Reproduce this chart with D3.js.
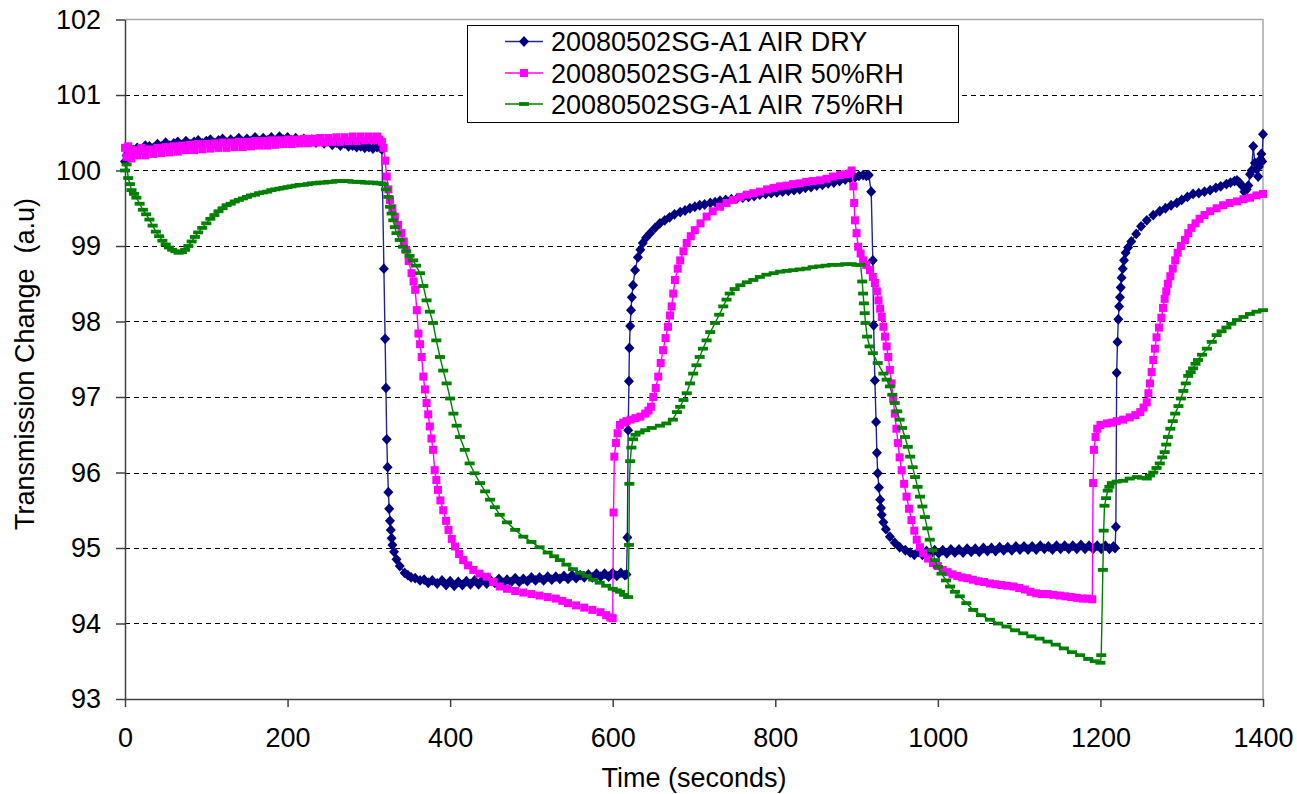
<!DOCTYPE html>
<html>
<head>
<meta charset="utf-8">
<script src="https://cdn.jsdelivr.net/npm/d3@7"></script>
<style>
  html, body { margin: 0; padding: 0; background: #fff; }
  svg { display: block; font-family: "Liberation Sans", Arial, sans-serif; }
</style>
</head>
<body>
<svg id="chart" width="1297" height="794"></svg>
<script>
// Transmission change vs. time for sample 20080502SG-A1 under three air humidities.
// Each record is [time (s), transmission (a.u)].

const seriesNames = [
  "20080502SG-A1 AIR DRY",
  "20080502SG-A1 AIR 50%RH",
  "20080502SG-A1 AIR 75%RH"
];

const xTicks = [0, 200, 400, 600, 800, 1000, 1200, 1400];
const yTicks = [93, 94, 95, 96, 97, 98, 99, 100, 101, 102];
const gridValues = [94, 95, 96, 97, 98, 99, 100, 101];

const dryData = [
  [0,100.12],[2,100.2],[4,100.24],[6,100.22],[8,100.26],[10,100.27],[15,100.3],[20,100.27],[25,100.33],[30,100.32],
  [35,100.3],[40,100.35],[45,100.32],[50,100.37],[55,100.33],[60,100.36],[65,100.38],[70,100.34],[75,100.39],[80,100.35],
  [85,100.38],[90,100.4],[95,100.36],[100,100.39],[105,100.41],[110,100.36],[115,100.4],[120,100.42],[125,100.37],[130,100.41],
  [135,100.38],[140,100.43],[145,100.38],[150,100.42],[155,100.39],[160,100.44],[165,100.39],[170,100.43],[175,100.4],[180,100.44],
  [185,100.39],[190,100.45],[195,100.41],[200,100.44],[205,100.4],[210,100.43],[215,100.39],[220,100.42],[225,100.38],[230,100.41],
  [235,100.37],[240,100.4],[245,100.36],[250,100.39],[255,100.34],[260,100.37],[265,100.33],[270,100.36],[275,100.32],[280,100.33],
  [285,100.31],[290,100.32],[295,100.3],[300,100.31],[305,100.29],[310,100.31],[314,100.3],[316,100.28],
  [318.5,98.7],[320,97.77],[321,97.12],[322,96.44],[323,96.07],[324,95.74],[325,95.52],[326,95.36],[327,95.24],[328,95.13],
  [329,95.04],[331,94.95],[334,94.85],[338,94.76],[344,94.67],[348,94.64],[352,94.61],[357,94.6],[363,94.57],[368,94.58],
  [373,94.54],[378,94.57],[384,94.53],[390,94.57],[395,94.51],[400,94.56],[405,94.5],[410,94.55],[415,94.51],[420,94.56],
  [425,94.52],[430,94.57],[435,94.52],[440,94.58],[445,94.53],[450,94.57],[455,94.54],[460,94.59],[465,94.54],[470,94.58],
  [475,94.55],[480,94.6],[485,94.55],[490,94.59],[495,94.56],[500,94.61],[505,94.57],[510,94.61],[515,94.57],[520,94.62],
  [525,94.58],[530,94.62],[535,94.59],[540,94.63],[545,94.59],[550,94.64],[555,94.6],[560,94.64],[565,94.61],[570,94.65],
  [575,94.61],[580,94.66],[585,94.62],[590,94.66],[595,94.62],[600,94.67],[605,94.63],[610,94.67],[615,94.64],[617,94.65],
  [618,95.14],[619,96.56],[620,97.21],[620.5,97.65],[621.5,97.94],[622.5,98.15],[623.5,98.32],[625,98.48],[627.5,98.68],[631,98.85],
  [634,98.95],[637,99.04],[641,99.11],[646,99.17],[652,99.24],[658,99.3],[664,99.34],[670,99.38],[676,99.42],[683,99.45],
  [689,99.47],[695,99.5],[701,99.52],[707,99.54],[713,99.55],[720,99.57],[726,99.58],[732,99.6],[739,99.61],[746,99.62],
  [753,99.63],[760,99.64],[767,99.65],[774,99.66],[781,99.68],[788,99.69],[795,99.7],[802,99.71],[809,99.72],[816,99.73],
  [823,99.74],[830,99.75],[837,99.77],[844,99.78],[851,99.8],[858,99.81],[865,99.83],[872,99.84],[879,99.86],[886,99.88],
  [892,99.9],[898,99.91],[903,99.93],[908,99.94],[912,99.93],[915,99.94],[918,99.72],
  [920,98.81],[921,97.95],[922.5,97.22],[924,96.67],[925,96.26],[926,95.99],[927.5,95.8],[929,95.64],[930,95.53],[931,95.44],
  [933,95.34],[936,95.25],[941,95.15],[947,95.07],[953,95.01],[960,94.97],[966,94.94],[971,94.91],[976,94.95],[981,94.91],
  [986,94.96],[991,94.92],[996,94.97],[1001,94.93],[1006,94.97],[1011,94.93],[1016,94.98],[1021,94.94],[1026,94.98],[1031,94.94],
  [1036,94.99],[1041,94.95],[1046,94.99],[1051,94.95],[1056,95.0],[1061,94.96],[1066,95.0],[1071,94.96],[1076,95.01],[1081,94.97],
  [1086,95.01],[1091,94.97],[1096,95.02],[1101,94.98],[1106,95.02],[1111,94.98],[1116,95.02],[1121,94.98],[1126,95.03],[1131,94.99],
  [1136,95.02],[1141,94.98],[1146,95.03],[1151,94.99],[1156,95.03],[1161,94.99],[1166,95.03],[1171,94.99],[1176,95.04],[1181,94.99],
  [1186,95.03],[1191,94.99],[1196,95.03],[1201,94.99],[1206,95.03],[1211,94.99],[1216,95.02],[1218,95.0],
  [1219,95.28],[1220,97.32],[1221,97.73],[1222,98.03],[1223,98.2],[1224,98.32],[1225,98.45],[1226,98.58],[1227.5,98.7],[1229,98.81],
  [1231,98.91],[1234,98.98],[1238,99.06],[1244,99.16],[1250,99.26],[1257,99.34],[1265,99.41],[1273,99.46],[1280,99.5],[1287,99.54],
  [1294,99.57],[1300,99.61],[1307,99.65],[1314,99.69],[1321,99.7],[1328,99.72],[1335,99.74],[1342,99.77],[1348,99.79],[1355,99.82],
  [1360,99.84],[1365,99.86],[1368,99.87],[1371,99.84],[1374,99.8],[1377,99.72],[1380,99.75],[1382,99.8],[1384,99.95],[1386,100.0],
  [1388,100.32],[1390,100.1],[1392,100.02],[1394,99.92],[1395,100.05],[1397,100.15],[1398,100.22],[1399,100.12],[1400,100.48]
];

const rh50Data = [
  [0,100.3],[2,100.18],[4,100.32],[6,100.22],[8,100.16],[10,100.27],[15,100.2],[20,100.3],[25,100.2],[30,100.28],
  [35,100.22],[40,100.3],[45,100.23],[50,100.31],[55,100.24],[60,100.32],[65,100.25],[70,100.33],[75,100.27],[80,100.34],
  [85,100.27],[90,100.35],[95,100.28],[100,100.35],[105,100.29],[110,100.36],[115,100.3],[120,100.37],[125,100.3],[130,100.37],
  [135,100.31],[140,100.38],[145,100.31],[150,100.38],[155,100.32],[160,100.39],[165,100.33],[170,100.39],[175,100.33],[180,100.4],
  [185,100.34],[190,100.4],[195,100.35],[200,100.41],[205,100.35],[210,100.41],[215,100.36],[220,100.42],[225,100.36],[230,100.42],
  [235,100.37],[240,100.43],[245,100.37],[250,100.43],[255,100.38],[260,100.44],[265,100.38],[270,100.44],[275,100.39],[280,100.45],
  [285,100.39],[290,100.45],[295,100.4],[300,100.45],[305,100.4],[310,100.45],[313,100.41],[316,100.38],[318,100.3],
  [320,100.13],[322,99.92],[324,99.75],[326,99.61],[329,99.5],[332,99.39],[336,99.28],[340,99.17],[343,99.06],[346,98.95],
  [349,98.8],[352.5,98.64],[355,98.53],[357,98.42],[359,98.15],[361,97.84],[363,97.7],[365,97.53],[367,97.27],[369,97.1],
  [371,96.92],[373,96.77],[375,96.61],[377,96.45],[379,96.3],[381,96.03],[383,95.9],[385,95.77],[388,95.63],[391.5,95.5],
  [395,95.36],[398,95.24],[402,95.12],[406,95.02],[411,94.92],[416,94.84],[422,94.77],[428.5,94.71],[436,94.66],[445,94.62],
  [453,94.55],[461,94.49],[470,94.46],[480,94.43],[490,94.41],[500,94.39],[510,94.37],[520,94.35],[530,94.33],[538,94.3],
  [545,94.27],[555,94.24],[565,94.21],[575,94.18],[585,94.15],[592,94.11],[597,94.08],[600,94.07],
  [601,95.47],[602,96.21],[604,96.39],[606,96.52],[609,96.63],[613,96.66],[617,96.68],[622,96.7],[628,96.72],[634,96.74],
  [640,96.78],[644,96.82],[647,96.87],[650,97.0],[653,97.12],[656,97.27],[659,97.45],[662,97.62],[665,97.78],[668,97.93],
  [670.5,98.08],[672.5,98.2],[674.5,98.37],[676.5,98.55],[680,98.7],[683,98.81],[687,98.93],[691,99.04],[696,99.13],[701,99.21],
  [708,99.3],[715.5,99.39],[723,99.46],[732,99.52],[740,99.57],[748,99.61],[757,99.65],[765,99.68],[773,99.7],[781,99.72],
  [790,99.75],[798,99.77],[806,99.79],[814,99.8],[822,99.82],[830,99.83],[838,99.85],[846,99.86],[855,99.87],[863,99.89],
  [871,99.92],[880,99.94],[886,99.95],[892,99.96],[894,100.0],
  [896,99.79],[897,99.57],[898,99.34],[900,99.17],[902,98.99],[905,98.9],[908,98.81],[912,98.75],[916.5,98.68],[920,98.59],
  [922.5,98.51],[925,98.4],[927,98.28],[929,98.17],[931,98.06],[933,97.93],[935,97.8],[937,97.67],[939,97.53],[941,97.36],
  [943,97.18],[945,96.98],[947,96.78],[949,96.58],[951,96.39],[953,96.2],[955.5,96.03],[958.5,95.85],[961.5,95.68],[964.5,95.52],
  [967.5,95.37],[971,95.23],[974,95.11],[978,95.01],[982,94.93],[988,94.86],[994,94.8],[1000,94.76],[1006,94.71],[1012,94.68],
  [1018,94.65],[1024,94.63],[1030,94.61],[1036,94.6],[1043,94.58],[1050,94.56],[1057,94.55],[1064,94.53],[1071,94.52],[1078,94.51],
  [1085,94.5],[1093,94.49],[1100,94.47],[1107,94.45],[1114,94.42],[1121,94.4],[1128,94.39],[1135,94.39],[1142,94.38],[1150,94.37],
  [1157,94.36],[1164,94.35],[1171,94.34],[1178,94.33],[1184,94.33],[1190,94.32],
  [1191,95.86],[1192,96.3],[1194,96.47],[1196,96.58],[1200,96.63],[1208,96.65],[1214,96.66],[1220,96.68],[1228,96.7],[1236,96.73],
  [1243,96.76],[1249,96.8],[1253,96.86],[1257,96.93],[1259,97.05],[1261,97.18],[1263,97.33],[1265,97.49],[1267,97.64],[1269,97.79],
  [1272,97.92],[1275,98.05],[1277,98.18],[1279,98.3],[1281,98.4],[1283,98.5],[1286,98.6],[1289,98.7],[1292,98.81],[1295,98.91],
  [1299,99.0],[1304,99.08],[1308,99.17],[1312,99.24],[1317,99.3],[1322,99.36],[1328,99.41],[1335,99.46],[1343,99.5],[1351,99.54],
  [1359,99.57],[1368,99.59],[1376,99.62],[1384,99.64],[1392,99.67],[1400,99.69]
];

const rh75Data = [
  [0,100.0],[2,100.08],[4,99.9],[6,99.82],[8,99.74],[11,99.69],[14,99.64],[18,99.56],[22,99.48],[26,99.42],
  [30,99.35],[34,99.27],[38,99.19],[42,99.13],[46,99.07],[50,99.02],[54,98.98],[58,98.95],[62,98.93],[66,98.91],
  [70,98.92],[74,98.95],[78,99.0],[82,99.06],[86,99.12],[90,99.18],[95,99.24],[100,99.3],[105,99.36],[110,99.41],
  [115,99.46],[120,99.5],[125,99.54],[130,99.56],[135,99.59],[140,99.61],[145,99.63],[150,99.65],[155,99.67],[160,99.68],
  [165,99.7],[170,99.71],[175,99.72],[180,99.74],[185,99.75],[190,99.76],[195,99.77],[200,99.78],[205,99.79],[210,99.8],
  [215,99.81],[220,99.81],[225,99.82],[230,99.83],[235,99.83],[240,99.84],[245,99.84],[250,99.85],[255,99.85],[260,99.86],
  [265,99.86],[270,99.86],[275,99.86],[280,99.85],[285,99.85],[290,99.85],[295,99.84],[300,99.84],[305,99.84],[310,99.83],
  [315,99.83],[318,99.82],
  [321,99.75],[324,99.65],[326,99.52],[328,99.43],[330,99.34],[332,99.25],[334,99.17],[338,99.08],[342,98.99],[346,98.93],
  [350,98.87],[354.5,98.81],[358,98.74],[363,98.64],[367,98.47],[371,98.28],[375,98.13],[379,97.98],[383,97.75],[387.5,97.53],
  [391.5,97.35],[395.7,97.18],[400,96.98],[404,96.78],[408,96.62],[412,96.47],[418,96.3],[424,96.12],[430,95.99],[436.7,95.86],
  [443,95.75],[449,95.64],[455,95.54],[461,95.44],[470,95.34],[480,95.24],[490,95.15],[500,95.08],[510,95.01],[520,94.94],
  [528,94.89],[535,94.84],[543,94.78],[551,94.72],[560,94.67],[568,94.63],[576,94.58],[584,94.54],[592,94.5],[600,94.46],
  [605,94.44],[609,94.42],[614,94.38],[619,94.35],
  [620,95.04],[620.5,95.85],[621.5,96.15],[623,96.33],[625,96.44],[628,96.5],[633,96.53],[640,96.56],[648,96.59],[658,96.62],
  [666,96.65],[674,96.7],[679,96.8],[683,96.87],[687,96.96],[691,97.05],[695,97.18],[699,97.31],[703,97.42],[707,97.53],
  [711,97.64],[715.5,97.75],[720,97.86],[726,97.98],[731,98.09],[736,98.2],[740,98.29],[744,98.37],[750,98.43],[757,98.48],
  [765,98.52],[773,98.55],[781,98.59],[789,98.62],[798,98.64],[806,98.66],[814,98.67],[822,98.68],[830,98.69],[838,98.7],
  [846,98.72],[854,98.73],[862,98.74],[870,98.75],[878,98.75],[886,98.76],[894,98.76],[900,98.75],[905,98.75],
  [907,98.53],[908,98.37],[909,98.24],[910,98.11],[911,97.98],[913,97.8],[916,97.67],[920,97.58],[926,97.45],[933,97.31],
  [937,97.23],[941,97.14],[944,97.03],[947,96.92],[950,96.81],[953,96.7],[956,96.59],[959.5,96.47],[963,96.34],[966,96.21],
  [969,96.07],[972,95.94],[975,95.81],[978,95.68],[981,95.55],[984,95.41],[987,95.26],[990,95.11],[993,94.97],[996.5,94.84],
  [1000,94.75],[1004.5,94.66],[1010,94.57],[1015,94.49],[1021,94.42],[1027,94.36],[1035,94.27],[1043.5,94.18],[1053,94.11],[1064,94.05],
  [1074,94.0],[1084.5,93.96],[1095,93.91],[1105,93.87],[1115,93.83],[1125,93.8],[1135,93.76],[1145,93.72],[1155,93.67],[1165,93.62],
  [1175,93.58],[1185,93.53],[1193,93.5],[1200,93.48],
  [1201,93.58],[1203,94.71],[1204,95.23],[1205,95.56],[1207,95.66],[1209,95.76],[1211,95.81],[1214,95.86],[1220,95.88],[1228,95.89],
  [1236,95.92],[1245,95.94],[1251,95.93],[1257,95.92],[1261,95.96],[1265,96.0],[1269,96.06],[1273,96.12],[1276,96.2],[1279,96.27],
  [1281,96.37],[1283,96.47],[1286,96.58],[1289,96.68],[1292,96.78],[1296,96.88],[1299,96.98],[1302,97.08],[1305,97.18],[1308,97.28],
  [1311,97.33],[1314,97.38],[1317,97.44],[1320,97.49],[1325,97.56],[1331,97.64],[1337,97.73],[1343,97.82],[1349,97.87],[1355,97.92],
  [1361,97.97],[1368,98.02],[1376,98.06],[1384,98.1],[1392,98.13],[1400,98.15]
];

// ---- layout ----
const svg = d3.select("#chart");
const plot = { left: 125, right: 1263, top: 19.5, bottom: 699 };
const FONT = 27;

const x = d3.scaleLinear().domain([0, 1400]).range([plot.left, plot.right]);
const y = d3.scaleLinear().domain([93, 102]).range([plot.bottom, plot.top]);
const crisp = v => Math.round(v) + 0.5;

// dashed horizontal gridlines
svg.append("g").selectAll("line").data(gridValues).join("line")
  .attr("x1", plot.left).attr("x2", plot.right)
  .attr("y1", d => crisp(y(d))).attr("y2", d => crisp(y(d)))
  .attr("stroke", "#000").attr("stroke-width", 1)
  .attr("stroke-dasharray", "5,4");

// plot area frame (top and right edges)
svg.append("path")
  .attr("d", `M${plot.left},${plot.top}H${plot.right}V${plot.bottom}`)
  .attr("fill", "none").attr("stroke", "#a6a6a6").attr("stroke-width", 1.5);

// axes
const yAxis = d3.axisLeft(y).tickValues(yTicks).tickFormat(d3.format("d"))
  .tickSize(9).tickPadding(15).tickSizeOuter(0);
const xAxis = d3.axisBottom(x).tickValues(xTicks).tickFormat(d3.format("d"))
  .tickSize(8).tickPadding(21).tickSizeOuter(0);

const gy = svg.append("g").attr("transform", `translate(${plot.left},0)`).call(yAxis);
const gx = svg.append("g").attr("transform", `translate(0,${plot.bottom})`).call(xAxis);
[gx, gy].forEach(g => {
  g.select(".domain").attr("stroke", "#404040").attr("stroke-width", 1.5);
  g.selectAll(".tick line").attr("stroke", "#404040").attr("stroke-width", 1.5);
  g.selectAll(".tick text").attr("fill", "#000")
    .style("font-family", '"Liberation Sans", Arial, sans-serif').style("font-size", FONT + "px");
});

// axis titles
svg.append("text")
  .attr("x", (plot.left + plot.right) / 2).attr("y", 787)
  .attr("text-anchor", "middle").style("font-size", FONT + "px")
  .text("Time (seconds)");

svg.append("text")
  .attr("transform", "translate(33.5,364) rotate(-90)")
  .attr("text-anchor", "middle").style("font-size", FONT + "px")
  .style("white-space", "pre")
  .text("Transmission Change  (a.u)");

// ---- series ----
const diamondPath = "M0,-5.4L5,0L0,5.4L-5,0Z";
const series = [
  { name: seriesNames[0], data: dryData, color: "#000080", lineColor: "#24248f", marker: "diamond" },
  { name: seriesNames[1], data: rh50Data, color: "#ff00ff", lineColor: "#ff00ff", marker: "square" },
  { name: seriesNames[2], data: rh75Data, color: "#008000", lineColor: "#008000", marker: "dash" }
];

function drawMarker(sel, kind, color) {
  if (kind === "diamond") {
    sel.append("path").attr("d", diamondPath).attr("fill", color);
  } else if (kind === "square") {
    sel.append("rect").attr("x", -4).attr("y", -4).attr("width", 8).attr("height", 8).attr("fill", color);
  } else {
    sel.append("rect").attr("x", -5).attr("y", -1.9).attr("width", 10).attr("height", 3.8).attr("fill", color);
  }
}

const line = d3.line().x(d => x(d[0])).y(d => y(d[1]));

series.forEach(s => {
  const g = svg.append("g");
  g.append("path").datum(s.data).attr("d", line)
    .attr("fill", "none").attr("stroke", s.lineColor).attr("stroke-width", 1.4);
  g.selectAll("g.m").data(s.data).join("g").attr("class", "m")
    .attr("transform", d => `translate(${x(d[0])},${y(d[1])})`)
    .each(function () { drawMarker(d3.select(this), s.marker, s.color); });
});

// ---- legend ----
const legend = svg.append("g");
legend.append("rect")
  .attr("x", 467.5).attr("y", 25.5).attr("width", 491).attr("height", 97)
  .attr("fill", "#fff").attr("stroke", "#000").attr("stroke-width", 1);
const rowBaselines = [51, 82.5, 113.5];
series.forEach((s, i) => {
  const cy = rowBaselines[i] - 9.5;
  legend.append("line").attr("x1", 505).attr("x2", 543).attr("y1", cy).attr("y2", cy)
    .attr("stroke", s.lineColor).attr("stroke-width", 1.4);
  const m = legend.append("g").attr("transform", `translate(524,${cy})`);
  drawMarker(m, s.marker, s.color);
  legend.append("text").attr("x", 551).attr("y", rowBaselines[i])
    .style("font-size", FONT + "px").text(s.name);
});
</script>
</body>
</html>
